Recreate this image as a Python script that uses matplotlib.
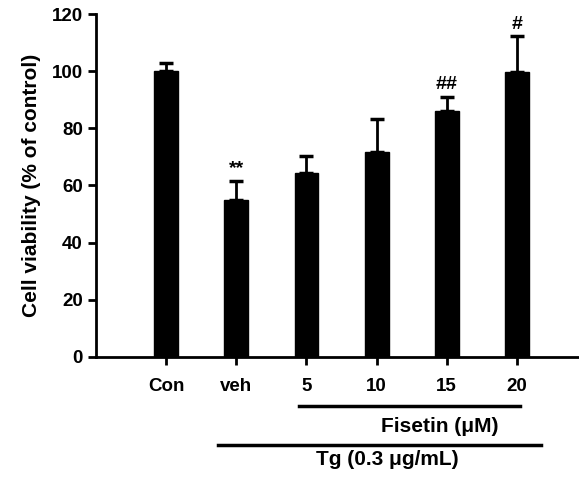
import matplotlib
matplotlib.use('Agg')
import matplotlib.pyplot as plt
import matplotlib.transforms as mtransforms

plt.rcParams['font.family'] = ['Liberation Sans', 'DejaVu Sans']
plt.rcParams['font.weight'] = 'bold'

groups = ['Con', 'veh', '5', '10', '15', '20']
viability = [100.1, 54.9, 64.2, 71.8, 86.0, 99.8]
sem = [2.6, 6.7, 6.2, 11.4, 5.0, 12.4]
marks = ['', '**', '', '', '##', '#']

fig = plt.figure(figsize=(5.79, 4.83), dpi=100)
ax = fig.add_axes([0.166, 0.261, 0.832, 0.710])

pos = list(range(1, len(groups) + 1))
ax.bar(pos, viability, width=0.34, color='black', edgecolor='black', zorder=2)
ax.errorbar(pos, viability, yerr=[[0] * len(sem), sem], fmt='none', ecolor='black',
            elinewidth=2, capsize=5, capthick=2.5, zorder=1)
for p, v, e, m in zip(pos, viability, sem, marks):
    if m:
        ax.text(p, v + e + 1.2, m, ha='center', va='bottom', fontsize=14, fontweight='bold')

ax.set_xlim(0, 6.87)
ax.set_ylim(0, 120)
ax.set_yticks(range(0, 121, 20))
ax.set_xticks(pos)
ax.set_xticklabels(groups, fontweight='bold')
ax.tick_params(axis='both', direction='out', length=6, width=2, labelsize=13.5)
ax.tick_params(axis='x', pad=9)
for lbl in ax.get_yticklabels():
    lbl.set_fontweight('bold')
ax.spines['top'].set_visible(False)
ax.spines['right'].set_visible(False)
ax.spines['left'].set_linewidth(2)
ax.spines['bottom'].set_linewidth(2)
ax.set_ylabel('Cell viability (% of control)', fontsize=15, fontweight='bold', labelpad=8)

# treatment bars under the axis
tr = mtransforms.blended_transform_factory(ax.transData, ax.transAxes)
ax.plot([2.9, 6.04], [-0.142, -0.142], color='black', lw=2.5, transform=tr, clip_on=False)
ax.text(4.9, -0.204, 'Fisetin (\u03bcM)', ha='center', va='center', fontsize=15,
        fontweight='bold', transform=tr)
ax.plot([1.74, 6.35], [-0.257, -0.257], color='black', lw=2.5, transform=tr, clip_on=False)
ax.text(4.15, -0.300, 'Tg (0.3 \u03bcg/mL)', ha='center', va='center', fontsize=15,
        fontweight='bold', transform=tr)

fig.savefig('out.png', dpi=100)
